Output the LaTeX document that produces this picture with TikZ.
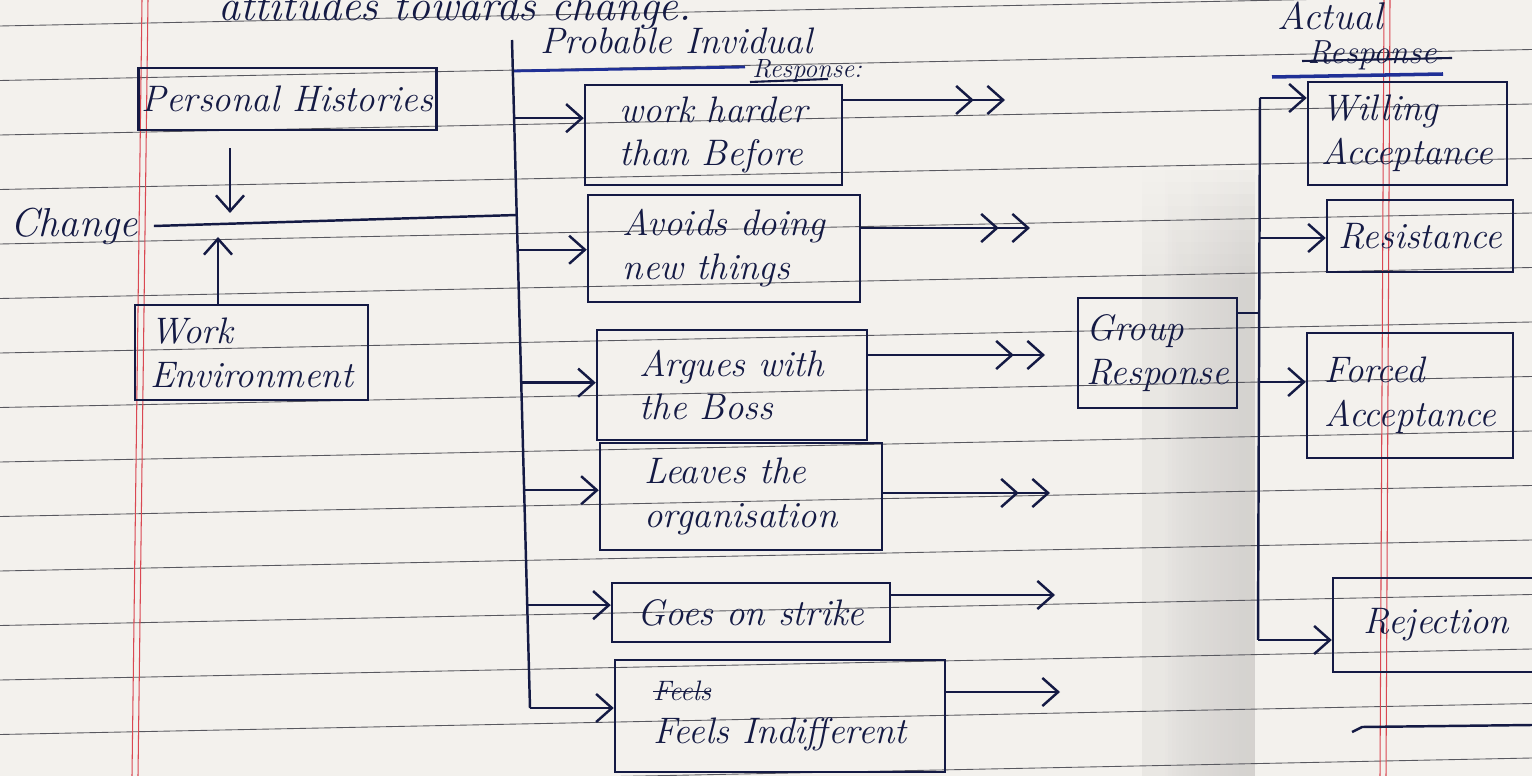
\documentclass[tikz,border=0pt]{standalone}
\usepackage{fontspec}
\usetikzlibrary{arrows.meta,calc,fadings}
\definecolor{paper}{RGB}{243,241,237}
\definecolor{papershade}{RGB}{205,202,200}
\definecolor{ink}{RGB}{20,26,68}
\definecolor{blueink}{RGB}{32,48,150}
\definecolor{rulec}{RGB}{88,88,95}
\definecolor{marginc}{RGB}{218,72,82}
\newcommand\mystrike[1]{\setbox0\hbox{#1}\rlap{\rule[0.28em]{\wd0}{0.9pt}}\box0}
\tikzset{
  hand/.style={font=\fontsize{21}{25}\selectfont\itshape, text=ink},
  label text/.style={hand, inner sep=0pt},
  box/.style={draw=ink, line width=1.4pt, hand, align=left, inner sep=2pt},
  wire/.style={draw=ink, line width=1.4pt},
  arr/.style={wire, -{Straight Barb[length=9pt,width=16pt]}},
  arrr/.style={wire, -{Straight Barb[length=9pt,width=16pt,sep=7pt]Straight Barb[length=9pt,width=16pt]}},
}
\newcommand\mybox[6]{\node[box, minimum width={(#3-#1)*0.02cm}, minimum height={(#4-#2)*0.02cm}] (#5) at ({(#1+#3)/2},{(#2+#4)/2}) {#6};}
\begin{document}
\begin{tikzpicture}[x=0.02cm,y=-0.02cm]
\useasboundingbox (0,0) rectangle (1532,776);
\clip (0,0) rectangle (1532,776);
% paper
\fill[paper] (0,0) rectangle (1532,776);
\foreach \i in {0,...,9} {
  \fill[papershade, path fading=west, fill opacity=0.12] (1140,{170+12*\i}) rectangle (1255,776);
}
\foreach \k in {0,...,14} {
  \draw[rulec, line width=0.5pt] (0,{1+54.5*\k+25}) -- (1532,{1+54.5*\k-6});
}
\draw[marginc, line width=0.6pt] (148,0) -- (138,776);
\draw[marginc, line width=0.6pt] (142,0) -- (132,776);
\draw[marginc, line width=0.6pt] (1384,0) -- (1380,776);
\draw[marginc, line width=0.6pt] (1390,0) -- (1386,776);

% headings
\node[label text, font=\fontsize{25}{28}\selectfont\itshape, anchor=base] (ttl) at (455,21) {attitudes towards change.};
\node[label text, font=\fontsize{21}{24}\selectfont\itshape, anchor=base west] (pir) at (540,54) {Probable Invidual};
\node[label text, font=\fontsize{15}{18}\selectfont\itshape, anchor=base west] (pir2) at (752,78) {Response:};
\draw[blueink, line width=1.6pt] (512,71) -- (745,67);
\draw[ink, line width=1.2pt] (750,82) -- (828,79);
\node[label text, font=\fontsize{22}{25}\selectfont\itshape, anchor=base] (act) at (1330,30) {Actual};
\node[label text, font=\fontsize{19}{22}\selectfont\itshape, anchor=base] (ares) at (1372,64) {Response};
\draw[ink, line width=1.2pt] (1302,61) -- (1452,58);
\draw[blueink, line width=2pt] (1272,77) -- (1443,74);

% left inputs
\node[hand, font=\fontsize{23}{26}\selectfont\itshape] (chg) at (74,226) {Change};
\mybox{150}{68}{425}{130}{ph}{Personal Histories}
\mybox{135}{305}{368}{400}{we}{Work\\Environment}
\coordinate (busT) at (512,40);
\coordinate (busB) at (530,708);
\coordinate (jc) at ($(busT)!0.262!(busB)$);
\draw[wire] ($(chg.east)+(10,0)$) -- (jc);
\coordinate (dn) at (230,213);
\draw[arr] ($(dn |- ph.south)+(0,17)$) -- (dn);
\coordinate (up) at (218,237);
\draw[arr] (up |- we.north) -- (up);

% probable individual responses
\mybox{585}{85}{842}{185}{b1}{work harder\\than Before}
\mybox{588}{195}{860}{302}{b2}{Avoids doing\\new things}
\mybox{597}{330}{867}{440}{b3}{Argues with\\the Boss}
\mybox{600}{443}{882}{550}{b4}{Leaves the\\organisation}
\mybox{612}{583}{890}{642}{b5}{Goes on strike}
\mybox{615}{660}{945}{772}{b6}{{\fontsize{16}{18}\selectfont\mystrike{Feels}}\\Feels Indifferent}

\draw[wire] (busT) -- (busB);
\coordinate (j1) at ($(busT)!0.117!(busB)$);
\coordinate (j2) at ($(busT)!0.314!(busB)$);
\coordinate (j3) at ($(busT)!0.513!(busB)$);
\coordinate (j4) at ($(busT)!0.674!(busB)$);
\coordinate (j5) at ($(busT)!0.846!(busB)$);
\draw[arr] (j1) -- (j1 -| b1.west);
\draw[arr] (j2) -- (j2 -| b2.west);
\draw[arr] (j3) -- (j3 -| b3.west);
\draw[arr] (j4) -- (j4 -| b4.west);
\draw[arr] (j5) -- (j5 -| b5.west);
\draw[arr] (busB) -- (busB -| b6.west);

\coordinate (o1) at (1005,100);
\coordinate (o2) at (1030,228);
\coordinate (o3) at (1045,355);
\coordinate (o4) at (1050,493);
\coordinate (o5) at (1055,595);
\coordinate (o6) at (1060,692);
\draw[arrr] (b1.east |- o1) -- (o1);
\draw[arrr] (b2.east |- o2) -- (o2);
\draw[arrr] (b3.east |- o3) -- (o3);
\draw[arrr] (b4.east |- o4) -- (o4);
\draw[arr] (b5.east |- o5) -- (o5);
\draw[arr] (b6.east |- o6) -- (o6);

% group and actual responses
\mybox{1078}{298}{1237}{408}{gr}{Group\\Response}
\mybox{1308}{82}{1507}{185}{wa}{Willing\\Acceptance}
\mybox{1327}{200}{1513}{272}{res}{Resistance}
\mybox{1307}{333}{1513}{458}{fa}{Forced\\Acceptance}
\mybox{1333}{578}{1540}{672}{rej}{Rejection}

\coordinate (rbT) at (1260,98);
\coordinate (rbB) at (1258,640);
\coordinate (r2) at (1260,238);
\coordinate (r3) at (1260,382);
\coordinate (gj) at (1260,313);
\draw[wire] (rbT) -- (rbB);
\draw[wire] (gj -| gr.east) -- (gj);
\draw[arr] (rbT) -- (rbT -| wa.west);
\draw[arr] (r2) -- (r2 -| res.west);
\draw[arr] (r3) -- (r3 -| fa.west);
\draw[arr] (rbB) -- (rbB -| rej.west);

\draw[wire] (1352,732) -- (1362,727) -- (1532,725);
\end{tikzpicture}
\end{document}
